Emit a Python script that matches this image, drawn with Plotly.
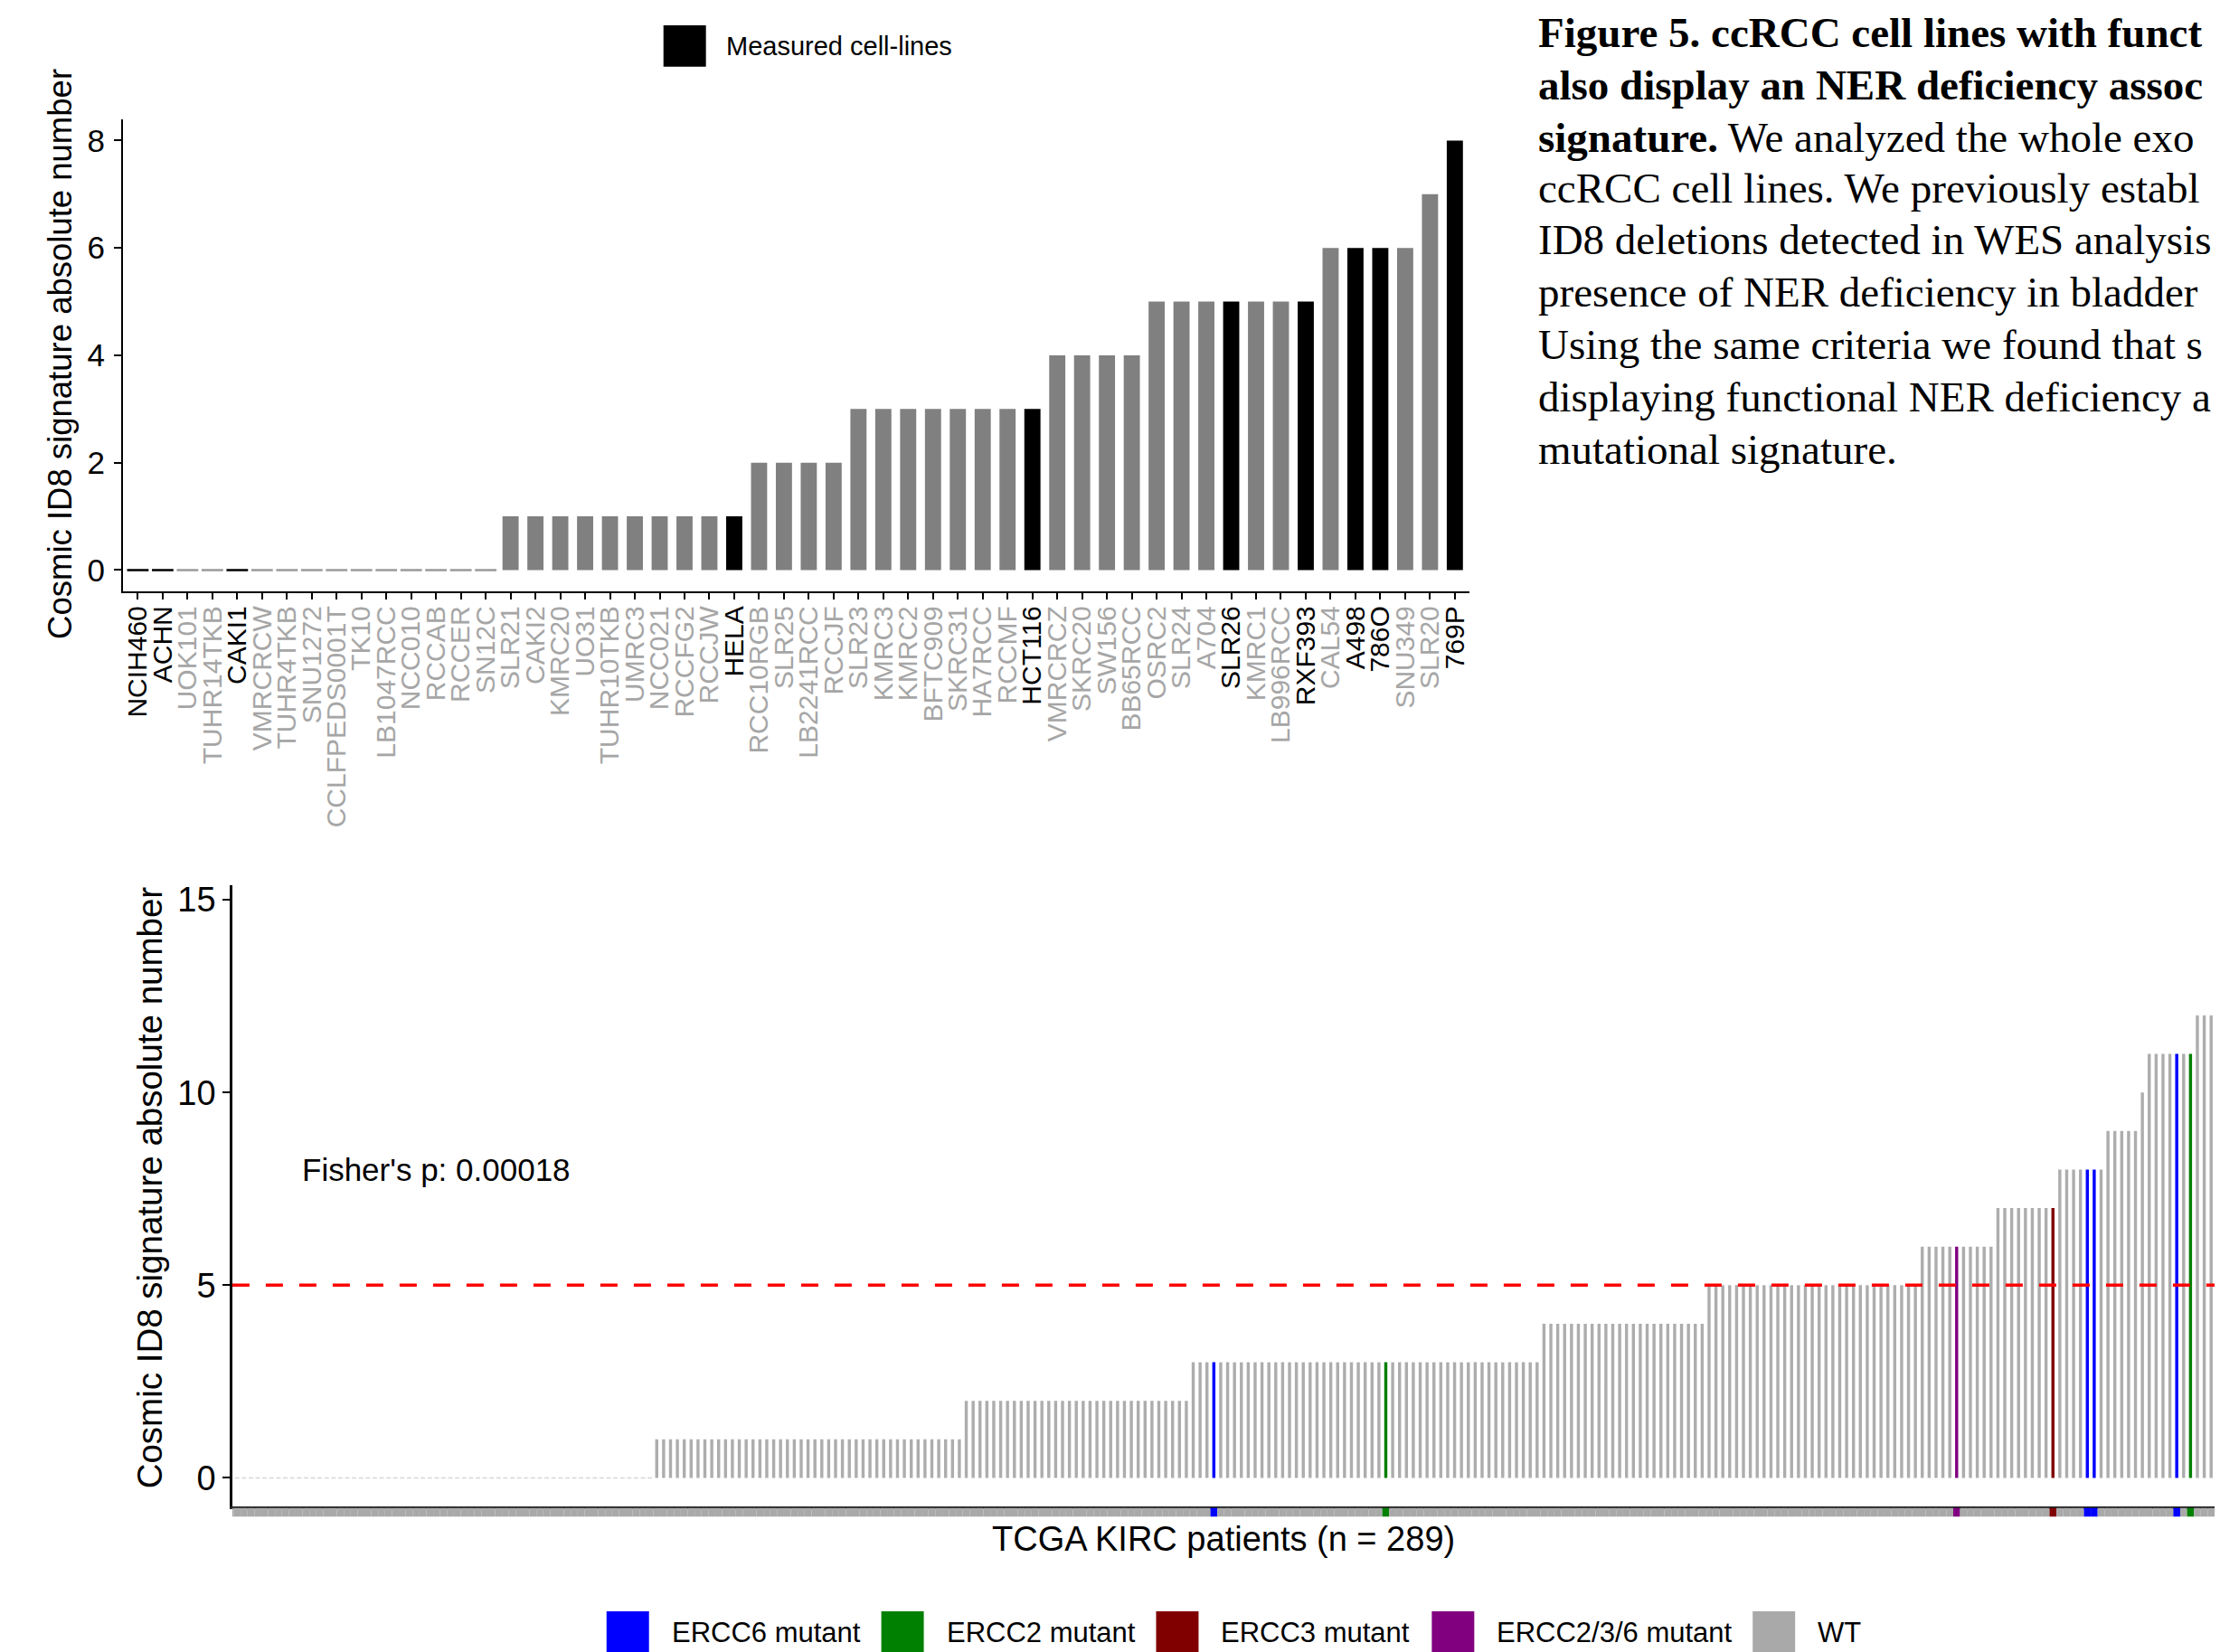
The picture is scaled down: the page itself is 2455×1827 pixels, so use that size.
import plotly.graph_objects as go

W, H = 2455, 1827

# ---------------- data: top panel (cell lines) ----------------
cell_lines = ["NCIH460", "ACHN", "UOK101", "TUHR14TKB", "CAKI1", "VMRCRCW", "TUHR4TKB",
              "SNU1272", "CCLFPEDS0001T", "TK10", "LB1047RCC", "NCC010", "RCCAB", "RCCER",
              "SN12C", "SLR21", "CAKI2", "KMRC20", "UO31", "TUHR10TKB", "UMRC3", "NCC021",
              "RCCFG2", "RCCJW", "HELA", "RCC10RGB", "SLR25", "LB2241RCC", "RCCJF", "SLR23",
              "KMRC3", "KMRC2", "BFTC909", "SKRC31", "HA7RCC", "RCCMF", "HCT116", "VMRCRCZ",
              "SKRC20", "SW156", "BB65RCC", "OSRC2", "SLR24", "A704", "SLR26", "KMRC1",
              "LB996RCC", "RXF393", "CAL54", "A498", "786O", "SNU349", "SLR20", "769P"]
id8_counts = [0, 0, 0, 0, 0, 0, 0, 0, 0, 0, 0, 0, 0, 0, 0,
              1, 1, 1, 1, 1, 1, 1, 1, 1, 1,
              2, 2, 2, 2,
              3, 3, 3, 3, 3, 3, 3, 3,
              4, 4, 4, 4,
              5, 5, 5, 5, 5, 5, 5,
              6, 6, 6, 6,
              7, 8]
measured_lines = ["NCIH460", "ACHN", "CAKI1", "HELA", "HCT116", "SLR26", "RXF393",
                  "A498", "786O", "769P"]
top_yticks = [0, 2, 4, 6, 8]

# ---------------- data: bottom panel (TCGA KIRC patients) ----------------
tcga_levels = [0, 1, 2, 3, 4, 5, 6, 7, 8, 9, 10, 11, 12]
tcga_counts = [62, 45, 33, 51, 24, 31, 11, 9, 7, 5, 1, 7, 3]   # patients per ID8 level (sorted)
mutant_patients = {143: "ERCC6 mutant", 168: "ERCC2 mutant", 251: "ERCC2/3/6 mutant",
                   265: "ERCC3 mutant", 270: "ERCC6 mutant", 271: "ERCC6 mutant",
                   283: "ERCC6 mutant", 285: "ERCC2 mutant"}
status_names = ["ERCC6 mutant", "ERCC2 mutant", "ERCC3 mutant", "ERCC2/3/6 mutant", "WT"]
status_colors = ["#0000FF", "#008000", "#800000", "#800080", "#A9A9A9"]
bottom_yticks = [0, 5, 10, 15]
THRESHOLD = 5
fisher_text = "Fisher's p: 0.00018"

caption_lines = [
    "<b>Figure 5. ccRCC cell lines with funct</b>",
    "<b>also display an NER deficiency assoc</b>",
    "<b>signature.</b> We analyzed the whole exo",
    "ccRCC cell lines. We previously establ",
    "ID8 deletions detected in WES analysis",
    "presence of NER deficiency in bladder",
    "Using the same criteria we found that s",
    "displaying functional NER deficiency a",
    "mutational signature.",
]

# ---------------- derived ----------------
tcga_values = []
for lvl, n in zip(tcga_levels, tcga_counts):
    tcga_values += [lvl] * n
n_pat = len(tcga_values)
tcga_status = ["WT"] * n_pat
for i, s in mutant_patients.items():
    tcga_status[i] = s
col_of = dict(zip(status_names, status_colors))
bar_col_of = dict(col_of)
bar_col_of["WT"] = "#ADADAD"

SANS = "Liberation Sans, Arial, sans-serif"
SERIF = "Liberation Serif, Times New Roman, serif"


def px(x):
    return x / W


def py(y):
    return 1 - y / H


fig = go.Figure()

# top bars
top_x = list(range(len(cell_lines)))
top_colors = ["#000000" if n in measured_lines else "#808080" for n in cell_lines]
fig.add_trace(go.Bar(x=top_x, y=id8_counts, width=0.65,
                     marker=dict(color=top_colors, line=dict(width=0)),
                     xaxis="x", yaxis="y", hoverinfo="x+y"))
zero_idx = [i for i, v in enumerate(id8_counts) if v == 0]
fig.add_trace(go.Scatter(
    x=zero_idx, y=[id8_counts[i] for i in zero_idx], mode="markers",
    marker=dict(symbol="line-ew", size=17,
                line=dict(width=2.5, color=["#000000" if cell_lines[i] in measured_lines
                                            else "#9A9A9A" for i in zero_idx])),
    xaxis="x", yaxis="y", hoverinfo="skip"))

# bottom bars
bot_x = list(range(n_pat))
fig.add_trace(go.Bar(x=bot_x, y=tcga_values, width=0.45,
                     marker=dict(color=[bar_col_of[s] for s in tcga_status], line=dict(width=0)),
                     xaxis="x2", yaxis="y2"))
bz = [i for i, v in enumerate(tcga_values) if v == 0]
fig.add_trace(go.Scatter(x=bz, y=[tcga_values[i] for i in bz], mode="markers",
                         marker=dict(symbol="line-ew", size=3.5, line=dict(width=1.5, color="#D6D6D6")),
                         xaxis="x2", yaxis="y2", hoverinfo="skip"))
# status strip
fig.add_trace(go.Bar(x=bot_x, y=[1] * n_pat, width=1,
                     marker=dict(color=[col_of[s] for s in tcga_status], line=dict(width=0)),
                     xaxis="x3", yaxis="y3", hoverinfo="skip"))

ticktext = ["<span style='color:%s'>%s</span>" % ("#000000" if n in measured_lines else "#A6A6A6", n)
            for n in cell_lines]

axis_common = dict(showgrid=False, zeroline=False, showline=True, linecolor="black",
                   ticks="outside", tickcolor="black", tickwidth=2)

# bottom panel pixel geometry: bars keep their spacing, y axis sits a few px right
X2_BAR0 = 250          # left edge of patient slot 0
X2_END = 2449
X2_AXIS = 256
pitch = (X2_END - X2_BAR0) / n_pat
x2_lo = -0.5 + (X2_AXIS - X2_BAR0) / pitch

fig.update_layout(
    width=W, height=H, margin=dict(l=0, r=0, t=0, b=0),
    paper_bgcolor="white", plot_bgcolor="white", showlegend=False,
    font=dict(family=SANS, color="black"),
    xaxis=dict(domain=[px(135), px(1625)], range=[-0.6, len(cell_lines) - 0.4],
               tickmode="array", tickvals=top_x, ticktext=ticktext, tickangle=-90,
               ticklen=7, linewidth=2, tickfont=dict(size=30), ticklabelstandoff=-5,
               anchor="y", **axis_common),
    yaxis=dict(domain=[py(651), py(127)], range=[-0.4, 8.4], tickvals=top_yticks,
               ticklen=8, linewidth=2, tickfont=dict(size=35), ticklabelstandoff=3,
               anchor="x", **axis_common),
    xaxis2=dict(domain=[px(X2_AXIS), px(X2_END)], range=[x2_lo, n_pat - 0.5], showticklabels=False,
                showgrid=False, zeroline=False, showline=True, linecolor="#222222",
                linewidth=3, ticks="", anchor="y2"),
    yaxis2=dict(domain=[py(1666), py(977)], range=[-0.75, 15.37], tickvals=bottom_yticks,
                ticklen=8, linewidth=2.5, tickfont=dict(size=38), anchor="x2", **axis_common),
    xaxis3=dict(domain=[px(X2_AXIS), px(X2_END)], range=[x2_lo, n_pat - 0.5], visible=False, anchor="y3"),
    yaxis3=dict(domain=[py(1677), py(1667)], range=[0, 1], visible=False, anchor="x3"),
)

shapes = [dict(type="line", xref="x2 domain", x0=0, x1=1, yref="y2", y0=THRESHOLD, y1=THRESHOLD,
               line=dict(color="#FF0000", width=3.5, dash="19px,18px"), layer="above")]
annotations = []

# top legend
shapes.append(dict(type="rect", xref="paper", yref="paper", x0=px(733), x1=px(780),
                   y0=py(69), y1=py(23), fillcolor="#000000", line=dict(width=0)))
annotations.append(dict(xref="paper", yref="paper", x=px(800), y=py(46), xanchor="left",
                        yanchor="middle", text="Measured cell-lines", showarrow=False,
                        font=dict(size=29, family=SANS)))

# bottom legend
leg_sq_x = [670, 974, 1278, 1583, 1938]
for xs, name, c in zip(leg_sq_x, status_names, status_colors):
    shapes.append(dict(type="rect", xref="paper", yref="paper", x0=px(xs), x1=px(xs + 47),
                       y0=0, y1=py(1782), fillcolor=c, line=dict(width=0)))
    annotations.append(dict(xref="paper", yref="paper", x=px(xs + 70), y=py(1805),
                            xanchor="left", yanchor="middle", text=name, showarrow=False,
                            font=dict(size=31, family=SANS)))

# axis titles
annotations.append(dict(xref="paper", yref="paper", x=px(66), y=py(387), xanchor="center",
                        yanchor="middle", text="Cosmic ID8 signature absolute number",
                        textangle=-90, showarrow=False, font=dict(size=36.5, family=SANS)))
annotations.append(dict(xref="paper", yref="paper", x=px(164), y=py(1312), xanchor="center",
                        yanchor="middle", text="Cosmic ID8 signature absolute number",
                        textangle=-90, showarrow=False, font=dict(size=38.5, family=SANS)))
annotations.append(dict(xref="paper", yref="paper", x=px(1353), y=py(1702), xanchor="center",
                        yanchor="middle", text="TCGA KIRC patients (n = %d)" % n_pat,
                        showarrow=False, font=dict(size=38, family=SANS)))
annotations.append(dict(xref="x2", yref="y2", x=30, y=8, xanchor="center", yanchor="middle",
                        text=fisher_text, showarrow=False, font=dict(size=35, family=SANS)))

# caption
cap_y = [31, 89, 147, 204, 261, 319, 377, 435, 493]
for t, yy in zip(caption_lines, cap_y):
    annotations.append(dict(xref="paper", yref="paper", x=px(1699), y=py(yy), xanchor="left",
                            yanchor="middle", text=t, showarrow=False,
                            font=dict(size=47, family=SERIF, color="black")))

fig.update_layout(shapes=shapes, annotations=annotations)
fig.write_html("out.html", config={"displayModeBar": False},
               post_script="document.body.style.margin='0';document.body.style.overflow='hidden';")
